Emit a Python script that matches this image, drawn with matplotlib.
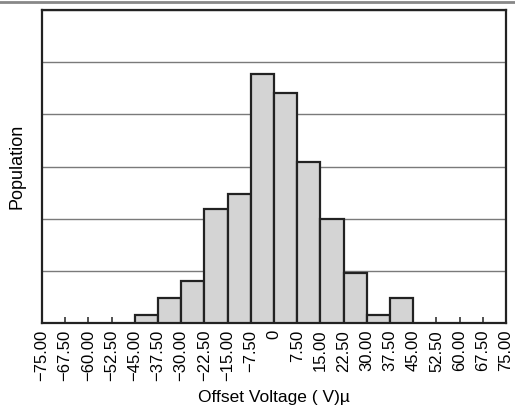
import numpy as np
import matplotlib
matplotlib.use("Agg")
import matplotlib.pyplot as plt
from matplotlib.lines import Line2D

plt.rcParams['font.family'] = ['Liberation Sans', 'DejaVu Sans']

# histogram data (bin edges in uV, relative population)
bin_edges = [-45.0, -37.5, -30.0, -22.5, -15.0, -7.5, 0.0, 7.5, 15.0, 22.5, 30.0, 37.5, 45.0]
population = [0.15, 0.48, 0.80, 2.18, 2.47, 4.78, 4.40, 3.08, 1.99, 0.96, 0.15, 0.48]
tick_values = [-75.0, -67.5, -60.0, -52.5, -45.0, -37.5, -30.0, -22.5, -15.0, -7.5, 0.0,
               7.5, 15.0, 22.5, 30.0, 37.5, 45.0, 52.5, 60.0, 67.5, 75.0]

fig = plt.figure(figsize=(5.15, 4.09), dpi=100)
ax = fig.add_axes([42 / 515, 1 - 323 / 409, 464 / 515, 313 / 409])

lefts = np.array(bin_edges[:-1])
widths = np.diff(bin_edges)
ax.bar(lefts, population, width=widths, align='edge', color='#d4d4d4',
       edgecolor='#222222', linewidth=1.6, zorder=3)

ax.set_xlim(-75, 75)
ax.set_ylim(0, 6)
ax.set_yticks(np.arange(0, 7, 1))
ax.yaxis.grid(True, color='#7a7a7a', linewidth=1.0, zorder=0)
ax.tick_params(axis='y', left=False, labelleft=False)

labels = ['0' if v == 0 else f'{v:.2f}'.replace('-', '\u2212') for v in tick_values]
ax.set_xticks(tick_values)
ax.set_xticklabels(labels, rotation=90, fontsize=12)
ax.tick_params(axis='x', direction='in', length=4, width=1.2, color='#333333', pad=5)

for s in ax.spines.values():
    s.set_linewidth(1.6)
    s.set_color('#222222')

ax.set_xlabel('Offset Voltage ( V)\u00b5', fontsize=12.5, labelpad=6)
ax.set_ylabel('Population', fontsize=13, labelpad=12)

# thin gray border line at the top of the picture
fig.add_artist(Line2D([0, 1], [0.996, 0.996], transform=fig.transFigure,
                      color='#888888', linewidth=2))

fig.savefig('out.png', dpi=100)
